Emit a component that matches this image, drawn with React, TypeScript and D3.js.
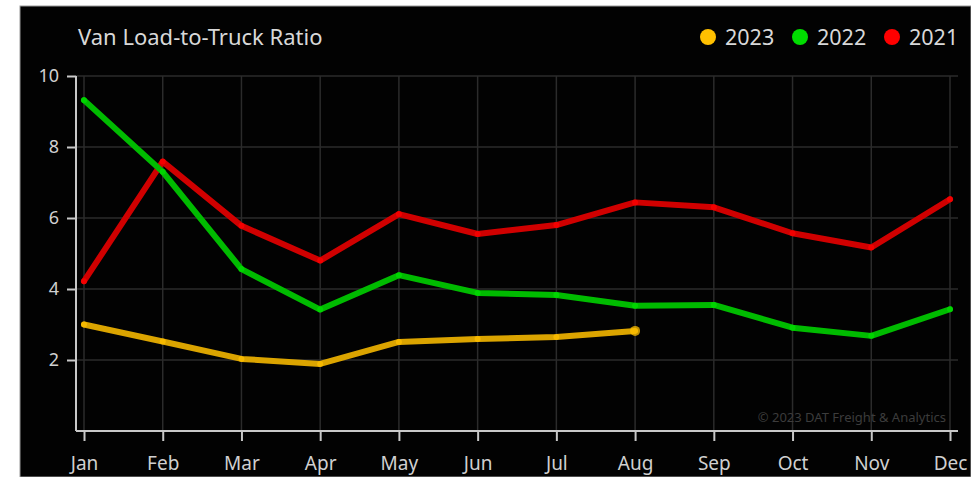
import React, { useRef, useEffect } from "react";
import * as d3 from "d3";

// Van load-to-truck ratio by month, three years
const months = ["Jan", "Feb", "Mar", "Apr", "May", "Jun", "Jul", "Aug", "Sep", "Oct", "Nov", "Dec"];
const ratio2021 = [4.22, 7.59, 5.78, 4.8, 6.11, 5.55, 5.8, 6.44, 6.3, 5.57, 5.17, 6.53];
const ratio2022 = [9.32, 7.3, 4.56, 3.42, 4.39, 3.89, 3.83, 3.53, 3.55, 2.91, 2.68, 3.43];
const ratio2023 = [3.0, 2.52, 2.03, 1.89, 2.51, 2.59, 2.65, 2.82];
const yTicks = [2, 4, 6, 8, 10];

const series = [
  { name: "2023", values: ratio2023, line: "#dba400", dot: "#ffc000" },
  { name: "2022", values: ratio2022, line: "#00bb00", dot: "#00dd00" },
  { name: "2021", values: ratio2021, line: "#d00000", dot: "#ff0000" },
];

const W = 971;
const H = 477;
const FONT = "'Noto Sans', 'Open Sans', sans-serif";

const App = () => {
  const ref = useRef<SVGSVGElement>(null);

  useEffect(() => {
    const svg = d3.select(ref.current);
    svg.selectAll("*").remove();

    // frame (white margin, black panel)
    svg.append("rect").attr("width", W).attr("height", H).attr("fill", "#fff");
    svg.append("rect").attr("x", 20).attr("y", 6).attr("width", W - 20).attr("height", H - 6)
      .attr("fill", "#020202").attr("stroke", "#999").attr("stroke-width", 1);

    const x = d3.scalePoint<string>().domain(months).range([84, 950]);
    const y = d3.scaleLinear().domain([0, 10]).range([431, 76]);
    const axisX = 76;
    const gridRight = 958;

    // grid
    const grid = svg.append("g").attr("stroke", "#2b2b2b").attr("stroke-width", 1.5);
    grid.selectAll("line.h").data(yTicks).join("line")
      .attr("x1", axisX).attr("x2", gridRight)
      .attr("y1", (d) => y(d)).attr("y2", (d) => y(d));
    grid.selectAll("line.v").data(months).join("line")
      .attr("x1", (d) => x(d)!).attr("x2", (d) => x(d)!)
      .attr("y1", y(10)).attr("y2", y(0));

    // y axis
    const yAxis = svg.append("g").attr("transform", `translate(${axisX},0)`)
      .call(d3.axisLeft(y).tickValues(yTicks).tickSize(9).tickPadding(8).tickSizeOuter(0));
    yAxis.select(".domain").attr("stroke", "#c8c8c8").attr("stroke-width", 2)
      .attr("d", `M0,${y(10)}V${y(0)}`);
    yAxis.selectAll(".tick line").attr("stroke", "#c8c8c8").attr("stroke-width", 2);
    yAxis.selectAll(".tick text").attr("fill", "#d0d0d0").attr("font-size", 18).attr("font-family", FONT);

    // x axis (labels sit at the very bottom edge, as in the source)
    const xAxis = svg.append("g").attr("transform", `translate(0,${y(0)})`)
      .call(d3.axisBottom(x).tickSize(10).tickPadding(16).tickSizeOuter(0));
    xAxis.select(".domain").attr("stroke", "#c8c8c8").attr("stroke-width", 2)
      .attr("d", `M${axisX},0H${gridRight}`);
    xAxis.selectAll(".tick line").attr("stroke", "#c8c8c8").attr("stroke-width", 2);
    xAxis.selectAll(".tick text").attr("fill", "#d0d0d0").attr("font-size", 19).attr("font-family", FONT);

    // watermark
    svg.append("text").attr("x", 946).attr("y", 422).attr("text-anchor", "end")
      .attr("fill", "#3c3c3c").attr("font-size", 13).attr("font-family", FONT)
      .text("© 2023 DAT Freight & Analytics");

    // lines
    const line = d3.line<number>().x((_, i) => x(months[i])!).y((d) => y(d));
    series.slice().reverse().forEach((s) => {
      svg.append("path").datum(s.values).attr("d", line).attr("fill", "none")
        .attr("stroke", s.line).attr("stroke-width", 6)
        .attr("stroke-linejoin", "round").attr("stroke-linecap", "round");
      svg.append("g").selectAll("circle").data(s.values).join("circle")
        .attr("cx", (_, i) => x(months[i])!).attr("cy", (d) => y(d))
        .attr("r", (_, i) => (s.name === "2023" && i === s.values.length - 1 ? 5 : 3))
        .attr("fill", s.dot).attr("opacity", 0.75);
    });

    // title
    svg.append("text").attr("x", 78).attr("y", 45).attr("fill", "#d8d8d8")
      .attr("font-size", 22).attr("font-family", FONT).text("Van Load-to-Truck Ratio");

    // legend
    const legendX = [708, 800, 892];
    const legend = svg.append("g");
    series.forEach((s, i) => {
      legend.append("circle").attr("cx", legendX[i]).attr("cy", 37).attr("r", 8).attr("fill", s.dot);
      legend.append("text").attr("x", legendX[i] + 17).attr("y", 45).attr("fill", "#d8d8d8")
        .attr("font-size", 21.5).attr("font-family", FONT).text(s.name);
    });
  }, []);

  return (
    <svg ref={ref} width={W} height={H} style={{ position: "absolute", left: 0, top: 0, display: "block" }} />
  );
};

export default App;
